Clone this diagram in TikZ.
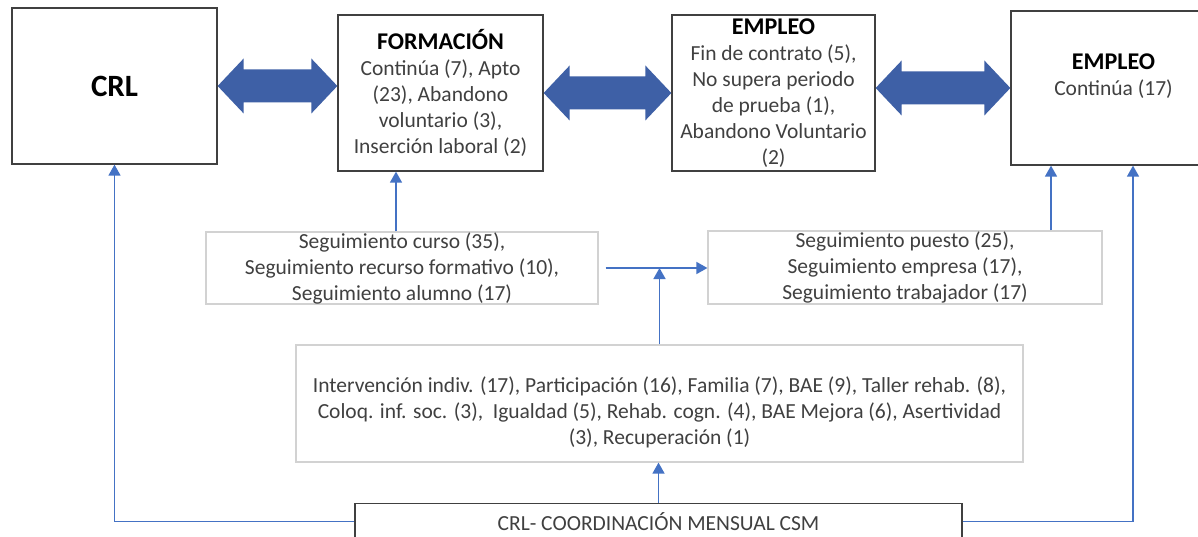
\documentclass[tikz,border=0pt]{standalone}
\usepackage{fontspec}
\setmainfont{Carlito}
\usetikzlibrary{arrows.meta,calc}
\definecolor{boxgray}{RGB}{64,64,64}
\definecolor{lightline}{RGB}{210,210,210}
\definecolor{textgray}{RGB}{64,64,64}
\definecolor{darkblue}{RGB}{62,96,166}
\definecolor{linkblue}{RGB}{68,114,196}
\newcommand\bodyfont{\fontsize{21.5}{26}\selectfont}
\newcommand\titlefont{\fontsize{24}{28}\selectfont\bfseries\color{black}}
\newcommand\crlfont{\fontsize{31}{36}\selectfont\bfseries}
\newcommand\widelink[2]{%
  \fill[darkblue] (#1) -- ++(26pt,27.5pt) -- ++(0pt,-11pt) -- ($(#2)+(-26pt,16.5pt)$) -- ++(0pt,11pt)
    -- (#2) -- ++(-26pt,-27.5pt) -- ++(0pt,11pt) -- ($(#1)+(26pt,-16.5pt)$) -- ++(0pt,-11pt) -- cycle;}

\begin{document}
\begin{tikzpicture}[
  main_box/.style={draw=boxgray, line width=1.3pt, fill=white, inner sep=0pt, align=center, font=\bodyfont, text=textgray},
  light_box/.style={draw=lightline, line width=1.2pt, fill=white, inner sep=0pt, align=center, font=\bodyfont, text=textgray},
  thin_link/.style={draw=linkblue, line width=1.5pt, -{Triangle[length=11pt,width=12pt]}},
]
\useasboundingbox[fill=white] (0pt,0pt) rectangle (1198pt,-537pt);

\node (crl) [main_box, minimum width=205pt, minimum height=156pt, font=\crlfont, text=black] at (114.5pt,-86pt) {CRL};
\node (form) [main_box, minimum width=205pt, minimum height=156pt] at (440.5pt,-93pt) {{\titlefont FORMACIÓN}\\Continúa (7), Apto\\(23), Abandono\\voluntario (3),\\Inserción laboral (2)};
\node (emp) [main_box, minimum width=203pt, minimum height=156pt] at (773.5pt,-93pt) {{\titlefont EMPLEO}\\Fin de contrato (5),\\No supera periodo\\de prueba (1),\\Abandono Voluntario\\(2)};
\node (empr) [main_box, minimum width=205pt, minimum height=154pt] at (1113.5pt,-88pt) {};
\node (empr_label) [align=center, font=\bodyfont, text=textgray, anchor=north, inner sep=0pt] at ([yshift=-43pt]empr.north) {{\titlefont EMPLEO}\\Continúa (17)};

\node (segf) [light_box, minimum width=392pt, minimum height=72pt] at (402pt,-268pt) {Seguimiento curso (35),\\Seguimiento recurso formativo (10),\\Seguimiento alumno (17)};
\node (segp) [light_box, minimum width=394pt, minimum height=73pt] at (905pt,-267.5pt) {Seguimiento puesto (25),\\Seguimiento empresa (17),\\Seguimiento trabajador (17)};
\node (interv) [light_box, minimum width=727pt, minimum height=117pt] at (659.5pt,-403.5pt) {\rule{0pt}{34pt}Intervención indiv. (17), Participación (16), Familia (7), BAE (9), Taller rehab. (8),\\Coloq. inf. soc. (3), \ Igualdad (5), Rehab. cogn. (4), BAE Mejora (6), Asertividad\\(3), Recuperación (1)};
\node (coord) [main_box, minimum width=607pt, minimum height=36pt, anchor=north] at (658.5pt,-503pt) {CRL- COORDINACIÓN MENSUAL CSM};

\widelink{crl.east}{crl.east -| form.west}
\widelink{form.east}{emp.west}
\widelink{emp.east |- empr.west}{empr.west}

\draw [thin_link] (coord.west) -| (crl.south);
\draw [thin_link] (coord.east) -| ([xshift=19.5pt]empr.south);
\draw [thin_link] (coord.north) -- (coord.north |- interv.south);
\draw [thin_link] (interv.north) -- (interv.north |- segf.east);
\coordinate (split) at ([xshift=7pt]segf.east);
\draw [thin_link] (split) -- (split -| segp.west);
\draw [thin_link] ([xshift=-6pt]segf.north) -- ([xshift=-6pt]segf.north |- form.south);
\draw [thin_link] ([xshift=-62.5pt]empr.south |- segp.north) -- ([xshift=-62.5pt]empr.south);
\end{tikzpicture}
\end{document}
